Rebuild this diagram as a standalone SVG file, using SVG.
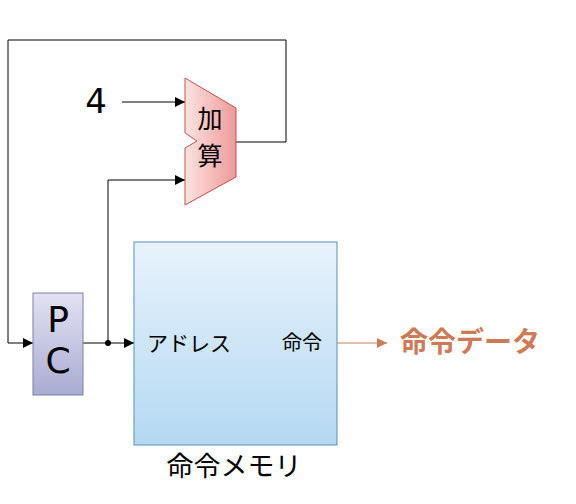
<svg xmlns="http://www.w3.org/2000/svg" width="576" height="504" viewBox="0 0 576 504">
<style>
.w{fill:none;stroke:#000;stroke-width:1}
.t{font-family:"Noto Sans CJK JP","Noto Sans",sans-serif;fill:#000}
.l{font-family:"DejaVu Sans","Noto Sans CJK JP",sans-serif;fill:#000}
</style>
<defs>
<marker id="ah" viewBox="0 0 10 10" refX="10" refY="5" markerWidth="10" markerHeight="10" markerUnits="userSpaceOnUse" orient="auto"><path d="M0,0 L10,5 L0,10 z" fill="#000"/></marker>
<marker id="aho" viewBox="0 0 10 10" refX="10" refY="5" markerWidth="10" markerHeight="10" markerUnits="userSpaceOnUse" orient="auto"><path d="M0,0 L10,5 L0,10 z" fill="#CC7B57"/></marker>
<linearGradient id="gadd" x1="0" y1="0" x2="1" y2="0"><stop offset="0" stop-color="#FBE3E1"/><stop offset="1" stop-color="#EE9A98"/></linearGradient>
<linearGradient id="gpc" x1="0" y1="0" x2="0" y2="1"><stop offset="0" stop-color="#E2E2F2"/><stop offset="1" stop-color="#A9ABD2"/></linearGradient>
<linearGradient id="gmem" x1="0" y1="0" x2="0" y2="1"><stop offset="0" stop-color="#E8F3FC"/><stop offset="1" stop-color="#B4D8F2"/></linearGradient>
</defs>
<g id="connectors">
<polyline class="w" points="236,142 286,142 286,40 8,40 8,343 33,343" marker-end="url(#ah)"/>
<line class="w" x1="122" y1="102" x2="185" y2="102" marker-end="url(#ah)"/>
<polyline class="w" points="108,343 108,180 185,180" marker-end="url(#ah)"/>
<line class="w" x1="83" y1="343" x2="134" y2="343" marker-end="url(#ah)"/>
<circle cx="108" cy="343" r="3" fill="#000"/>
<line x1="337" y1="343" x2="387" y2="343" stroke="#CC7B57" stroke-width="1" marker-end="url(#aho)"/>
</g>
<g id="adder">
<path d="M185,78 L236,108 L236,177 L185,205 L185,148 L197,141 L185,133 Z" fill="url(#gadd)" stroke="#C0504D" stroke-width="1"/>
<text class="t" x="210" y="128" font-size="25" text-anchor="middle">加</text>
<text class="t" x="210" y="165" font-size="25" text-anchor="middle">算</text>
</g>
<g id="four">
<text class="l" x="96" y="113" font-size="34" text-anchor="middle">4</text>
</g>
<g id="pc">
<rect x="33" y="293" width="50" height="102" fill="url(#gpc)" stroke="#7F7FA8" stroke-width="1"/>
<text class="l" x="58" y="332" font-size="36" text-anchor="middle">P</text>
<text class="l" x="58" y="373" font-size="36" text-anchor="middle">C</text>
</g>
<g id="memory">
<rect x="134" y="242" width="203" height="203" fill="url(#gmem)" stroke="#5B8DB8" stroke-width="1"/>
<text class="t" x="147" y="351" font-size="21">アドレス</text>
<text class="t" x="302" y="350" font-size="20" text-anchor="middle">命令</text>
<text class="t" x="234" y="476" font-size="27" text-anchor="middle">命令メモリ</text>
</g>
<g id="output">
<text class="t" x="400" y="352" font-size="28" font-weight="bold" style="fill:#CC7B57">命令データ</text>
</g>
</svg>
